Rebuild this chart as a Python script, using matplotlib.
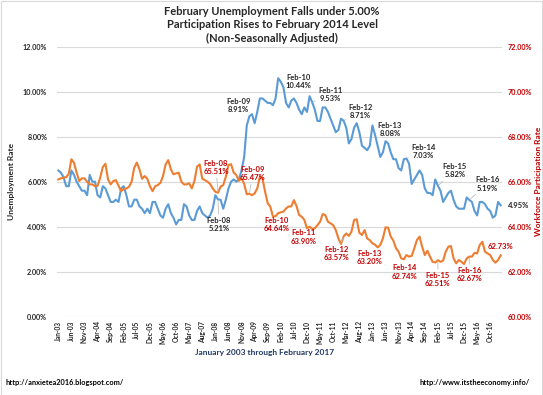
import matplotlib
matplotlib.use("Agg")
import matplotlib.pyplot as plt
from matplotlib.ticker import FuncFormatter
from matplotlib.patches import Rectangle

plt.rcParams['font.family'] = ['Lato', 'DejaVu Sans']

# ---------------- data ----------------
months = ["Jan", "Feb", "Mar", "Apr", "May", "Jun", "Jul", "Aug", "Sep", "Oct", "Nov", "Dec"]
dates = [f"{m}-{y:02d}" for y in range(3, 18) for m in months][:170]

unemployment = [
    6.5, 6.4, 6.2, 5.8, 5.8, 6.5, 6.3, 6.0, 5.8, 5.6, 5.6, 5.4,      # 2003
    6.3, 6.0, 6.0, 5.4, 5.3, 5.8, 5.7, 5.4, 5.1, 5.1, 5.2, 5.1,      # 2004
    5.7, 5.8, 5.4, 4.9, 4.9, 5.2, 5.2, 4.9, 4.8, 4.6, 4.8, 4.6,      # 2005
    5.1, 5.1, 4.8, 4.5, 4.4, 4.8, 5.0, 4.6, 4.4, 4.1, 4.3, 4.3,      # 2006
    5.0, 4.9, 4.5, 4.3, 4.3, 4.7, 4.9, 4.6, 4.5, 4.4, 4.5, 4.8,      # 2007
    5.4, 5.21, 5.2, 4.8, 5.2, 5.7, 6.0, 6.1, 6.0, 6.1, 6.5, 7.1,     # 2008
    8.5, 8.91, 9.0, 8.6, 9.1, 9.7, 9.7, 9.6, 9.5, 9.5, 9.4, 9.7,     # 2009
    10.6, 10.44, 10.2, 9.5, 9.3, 9.6, 9.7, 9.5, 9.2, 9.0, 9.3, 9.1,  # 2010
    9.8, 9.53, 9.2, 8.7, 8.7, 9.3, 9.3, 9.1, 8.8, 8.5, 8.2, 8.3,     # 2011
    8.8, 8.71, 8.4, 7.7, 7.9, 8.4, 8.6, 8.2, 7.6, 7.5, 7.4, 7.6,     # 2012
    8.5, 8.08, 7.6, 7.1, 7.3, 7.8, 7.7, 7.3, 7.0, 7.0, 6.6, 6.5,     # 2013
    7.0, 7.03, 6.8, 5.9, 6.1, 6.3, 6.5, 6.3, 5.7, 5.5, 5.5, 5.4,     # 2014
    6.1, 5.82, 5.6, 5.1, 5.3, 5.5, 5.6, 5.2, 4.9, 4.8, 4.8, 4.8,     # 2015
    5.3, 5.19, 5.1, 4.7, 4.5, 5.1, 5.1, 5.0, 4.8, 4.7, 4.4, 4.5,     # 2016
    5.1, 4.95,                                                       # 2017
]

participation = [
    66.10, 66.15, 66.18, 66.20, 66.35, 67.00, 66.84, 66.40, 66.03, 66.15, 66.15, 66.00,  # 2003
    65.88, 65.88, 65.80, 65.82, 66.18, 66.65, 66.80, 66.10, 65.88, 66.03, 66.07, 65.83,  # 2004
    65.58, 65.67, 65.70, 65.77, 66.00, 66.62, 66.85, 66.55, 66.13, 66.25, 66.13, 65.80,  # 2005
    65.58, 65.80, 65.85, 65.95, 66.25, 66.77, 66.96, 66.55, 66.33, 66.37, 66.40, 66.00,  # 2006
    65.88, 65.88, 65.93, 65.70, 66.03, 66.67, 66.77, 66.13, 66.07, 66.00, 65.90, 65.70,  # 2007
    65.55, 65.51, 65.78, 65.85, 66.22, 66.74, 66.78, 66.40, 66.30, 66.04, 66.15, 65.90,  # 2008
    65.44, 65.47, 65.40, 65.48, 65.70, 66.22, 66.15, 65.55, 65.04, 64.89, 64.44, 64.47,  # 2009
    64.60, 64.64, 64.67, 64.81, 64.90, 64.90, 65.18, 64.92, 64.52, 64.44, 64.30, 63.93,  # 2010
    64.00, 63.90, 63.93, 64.07, 64.22, 64.56, 64.52, 64.22, 64.15, 64.07, 63.85, 63.48,  # 2011
    63.23, 63.57, 63.70, 63.59, 63.78, 64.30, 64.33, 63.73, 63.63, 63.85, 63.48, 63.40,  # 2012
    63.26, 63.20, 63.08, 63.19, 63.48, 63.97, 63.96, 63.56, 63.38, 63.04, 62.89, 62.59,  # 2013
    62.55, 62.74, 62.67, 62.70, 63.04, 63.41, 63.56, 63.11, 62.74, 62.93, 62.67, 62.44,  # 2014
    62.41, 62.51, 62.44, 62.49, 62.89, 63.11, 63.14, 62.59, 62.37, 62.52, 62.44, 62.34,  # 2015
    62.59, 62.67, 62.67, 62.84, 62.81, 63.19, 63.33, 62.89, 62.81, 62.74, 62.52, 62.40,  # 2016
    62.52, 62.73,                                                                        # 2017
]

left_ticks = [0, 2, 4, 6, 8, 10, 12]
right_ticks = [60, 62, 64, 66, 68, 70, 72]
tick_idx = list(range(0, 170, 5))

title = ("February Unemployment Falls under 5.00%\n"
         "Participation Rises to February 2014 Level\n"
         "(Non-Seasonally Adjusted)")

# annotation offsets (pixels) for February points
feb_idx = [61, 73, 85, 97, 109, 121, 133, 145, 157]
blue_off = [(1, -25), (-11, 11), (18, 0), (18, 8), (17, 9), (15, 5), (17, 7), (17, 15), (18, 16)]
blue_line = [True, False, False, True, True, False, True, True, True]
red_off = [(-2, 25), (3, 20), (-4, -12), (-9, -8), (-7, -17), (-5, -13), (-2, -17), (0, -19), (0, -18)]
red_line = [True, True, False, False, True, False, False, True, True]

BLUE = "#5B9BD5"
ORANGE = "#ED7D31"
RED = "#C00000"
GRID = "#D9D9D9"
TXT = "#262626"

# ---------------- figure ----------------
W, H = 543, 395
fig = plt.figure(figsize=(W / 100, H / 100), dpi=100)
fig.patch.set_facecolor("white")
ax = fig.add_axes([57 / W, (H - 316.7) / H, 445 / W, 270 / H])
ax2 = ax.twinx()

x = list(range(len(dates)))
ax.plot(x, unemployment, color=BLUE, lw=1.5, zorder=3)
ax2.plot(x, participation, color=ORANGE, lw=1.5, zorder=3)

ax.set_xlim(-0.5, 169.5)
ax.set_ylim(0, 12)
ax2.set_ylim(60, 72)
ax.set_yticks(left_ticks)
ax2.set_yticks(right_ticks)
ax.yaxis.set_major_formatter(FuncFormatter(lambda v, p: f"{v:.2f}%"))
ax2.yaxis.set_major_formatter(FuncFormatter(lambda v, p: f"{v:.2f}%"))
ax.set_xticks(tick_idx)
ax.set_xticklabels([dates[i] for i in tick_idx], rotation=90, fontsize=4.8,
                   fontweight="bold", color=TXT)
ax.grid(axis="y", color=GRID, lw=0.8, zorder=0)
ax.set_axisbelow(True)
for a in (ax, ax2):
    for s in a.spines.values():
        s.set_visible(False)
    a.tick_params(length=0)
ax.tick_params(axis="y", labelsize=5.2, colors=TXT, pad=7)
ax.tick_params(axis="x", pad=3)
ax2.tick_params(axis="y", labelsize=5.2, colors=RED, pad=4)
for t in ax.get_yticklabels() + ax2.get_yticklabels():
    t.set_fontweight("bold")

ax.set_ylabel("Unemployment Rate", fontsize=6, fontweight="bold", color=TXT, labelpad=6)
ax2.set_ylabel("Workforce Participation Rate", fontsize=6, fontweight="bold",
               color=RED, labelpad=2)

fig.text(272 / W, 1 - 25 / H, title, ha="center", va="center", fontsize=8,
         fontweight="bold", color=TXT, linespacing=1.25)
fig.text(265 / W, 1 - 352 / H, "January 2003 through February 2017", ha="center",
         va="center", fontsize=6, fontweight="bold", color="#203864")
fig.text(6 / W, 1 - 383 / H, "http://anxietea2016.blogspot.com/", ha="left",
         va="center", fontsize=5.3, fontweight="bold", color="#000000")
fig.text(530 / W, 1 - 383 / H, "http://www.itstheeconomy.info/", ha="right",
         va="center", fontsize=5.3, fontweight="bold", color="#000000")
fig.patches.append(Rectangle((0.5 / W, 0.5 / H), (W - 1.5) / W, (H - 1.5) / H,
                             transform=fig.transFigure, fill=False,
                             edgecolor="#D9D9D9", lw=0.8))

lead = dict(arrowstyle="-", color="#BFBFBF", lw=0.6, shrinkA=0, shrinkB=1)
for i, off, ln in zip(feb_idx, blue_off, blue_line):
    ax.annotate(f"{dates[i]}\n{unemployment[i]:.2f}%", xy=(i, unemployment[i]),
                xytext=off, textcoords="offset pixels", ha="center", va="center",
                fontsize=5.5, fontweight="bold", color=TXT, linespacing=1.2,
                arrowprops=lead if ln else None, zorder=5)
for i, off, ln in zip(feb_idx, red_off, red_line):
    ax2.annotate(f"{dates[i]}\n{participation[i]:.2f}%", xy=(i, participation[i]),
                 xytext=off, textcoords="offset pixels", ha="center", va="center",
                 fontsize=5.5, fontweight="bold", color=RED, linespacing=1.2,
                 arrowprops=lead if ln else None, zorder=5)
last = len(dates) - 1
ax.annotate(f"{unemployment[last]:.2f}%", xy=(last, unemployment[last]),
            xytext=(7, 0), textcoords="offset pixels", ha="left", va="center",
            fontsize=5.5, fontweight="bold", color=TXT)
ax2.annotate(f"{participation[last]:.2f}%", xy=(last, participation[last]),
             xytext=(0, 9), textcoords="offset pixels", ha="center", va="center",
             fontsize=5.5, fontweight="bold", color=RED)

fig.savefig("out.png", dpi=100, facecolor="white")
